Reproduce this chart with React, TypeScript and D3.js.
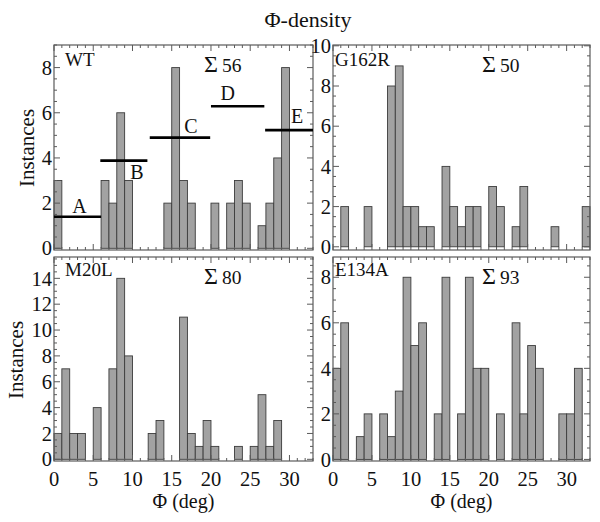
import React from "react";
import * as d3 from "d3";

// ---- data ----
const binStarts = d3.range(0, 33); // 1-degree bins, 0..32
const wtCounts = [3,0,0,0,0,0,3,2,6,3,0,0,0,0,2,8,3,2,0,0,2,0,2,3,2,0,1,2,4,8,0,0,0];
const g162rCounts = [0,2,0,0,2,0,0,8,9,2,2,1,1,0,4,2,1,2,2,0,3,2,0,1,3,0,0,0,1,0,0,0,2];
const m20lCounts = [2,7,2,2,0,4,0,7,14,8,0,0,2,3,0,0,11,2,1,3,1,0,0,1,0,1,5,1,3,0,0,0,0];
const e134aCounts = [4,6,0,1,2,0,2,1,3,8,5,6,0,2,8,0,2,8,4,4,0,2,0,6,2,5,4,0,0,2,2,4,0];

const panelNames = ["WT", "G162R", "M20L", "E134A"];
const panelTotals = [56, 50, 80, 93];
const yMax = [9, 10.04, 15.65, 8.89];
const yMin = [-0.075, -0.16, -0.13, -0.07];
const yTickValues = [
  [0, 2, 4, 6, 8],
  [0, 2, 4, 6, 8, 10],
  [0, 2, 4, 6, 8, 10, 12, 14],
  [0, 2, 4, 6, 8],
];
const xTickValues = [0, 5, 10, 15, 20, 25, 30];

// WT region segments
const segLabels = ["A", "B", "C", "D", "E"];
const segStart = [0, 5.9, 12.2, 20, 26.9];
const segEnd = [6, 11.9, 19.9, 26.8, 33.2];
const segLevel = [1.4, 3.88, 4.9, 6.29, 5.23];

const counts = [wtCounts, g162rCounts, m20lCounts, e134aCounts];

// ---- layout (styling) ----
const W = 600, H = 522;
const frames = [
  { x0: 54, x1: 313, y0: 45, y1: 250 },
  { x0: 333, x1: 590, y0: 45, y1: 250 },
  { x0: 54, x1: 313, y0: 257, y1: 461 },
  { x0: 333, x1: 590, y0: 257, y1: 461 },
];
const segLabelOffset = [[2, -4], [13, 18], [11, -5], [-10, -6], [8, -7]];
const FONT = "'Liberation Serif', 'Times New Roman', serif";
const BAR_FILL = "#a2a2a2";
const BAR_STROKE = "#3c3c3c";
const FRAME = "#5a5a5a";

function Panel({ i }: { i: number }) {
  const f = frames[i];
  const x = d3.scaleLinear().domain([0, 33]).range([f.x0, f.x1]);
  const y = d3.scaleLinear().domain([yMin[i], yMax[i]]).range([f.y1, f.y0]);
  const data = counts[i];
  const bottomRow = i >= 2;
  const xMinor = d3.range(0, 34, 1);
  const yMinor = d3.range(0, Math.floor(yMax[i] / 0.5) * 0.5 + 0.001, 0.5);
  const ticks: React.ReactNode[] = [];
  xMinor.forEach((v, k) => {
    const len = v % 5 === 0 ? 6 : 3;
    const px = x(v);
    if (px > f.x1 + 0.1) return;
    ticks.push(<line key={"xb" + k} x1={px} x2={px} y1={f.y1} y2={f.y1 - len} stroke={FRAME} strokeWidth={1} />);
    ticks.push(<line key={"xt" + k} x1={px} x2={px} y1={f.y0} y2={f.y0 + len} stroke={FRAME} strokeWidth={1} />);
  });
  yMinor.forEach((v, k) => {
    const len = Math.abs(v % 2) < 1e-6 ? 6 : 3;
    const py = y(v);
    if (py < f.y0 - 0.1) return;
    ticks.push(<line key={"yl" + k} x1={f.x0} x2={f.x0 + len} y1={py} y2={py} stroke={FRAME} strokeWidth={1} />);
    ticks.push(<line key={"yr" + k} x1={f.x1} x2={f.x1 - len} y1={py} y2={py} stroke={FRAME} strokeWidth={1} />);
  });
  return (
    <g>
      {binStarts.map((b, k) =>
        data[k] > 0 ? (
          <rect
            key={k}
            x={x(b)}
            y={y(data[k])}
            width={Math.min(x(b + 1), f.x1) - x(b)}
            height={y(0) - y(data[k])}
            fill={BAR_FILL}
            stroke={BAR_STROKE}
            strokeWidth={0.9}
          />
        ) : null
      )}
      {ticks}
      <rect x={f.x0} y={f.y0} width={f.x1 - f.x0} height={f.y1 - f.y0} fill="none" stroke={FRAME} strokeWidth={1.2} />
      {yTickValues[i].map((v) => (
        <text key={"yl" + v} x={f.x0 - 2} y={y(v)} dy="0.35em" textAnchor="end" fontFamily={FONT} fontSize={20.5} fill="#111">
          {v}
        </text>
      ))}
      {bottomRow &&
        xTickValues.map((v) => (
          <text key={"xl" + v} x={x(v)} y={486} textAnchor="middle" fontFamily={FONT} fontSize={20.5} fill="#111">
            {v}
          </text>
        ))}
      {bottomRow && (
        <text x={(f.x0 + f.x1) / 2} y={508} textAnchor="middle" fontFamily={FONT} fontSize={20} fill="#111">
          Φ (deg)
        </text>
      )}
      <text x={f.x0 + (i % 2 === 0 ? 11 : 2)} y={f.y0 + (i < 2 ? 21 : 19)} fontFamily={FONT} fontSize={19} fill="#111">
        {panelNames[i]}
      </text>
      <text x={i % 2 === 0 ? f.x0 + 150 : f.x0 + 149} y={f.y0 + 27} fontFamily={FONT} fill="#111">
        <tspan fontSize={24}>Σ</tspan>
        <tspan fontSize={19.5} dx={4}>{panelTotals[i]}</tspan>
      </text>
    </g>
  );
}

export default function App() {
  const f0 = frames[0];
  const xw = d3.scaleLinear().domain([0, 33]).range([f0.x0, f0.x1]);
  const yw = d3.scaleLinear().domain([yMin[0], yMax[0]]).range([f0.y1, f0.y0]);
  return (
    <svg width={W} height={H} style={{ position: "absolute", left: 0, top: 0, background: "#fff" }}>
      <rect width={W} height={H} fill="#fff" />
      <text x={308} y={27} textAnchor="middle" fontFamily={FONT} fontSize={22} fill="#111">
        Φ-density
      </text>
      {[0, 1, 2, 3].map((i) => (
        <Panel key={i} i={i} />
      ))}
      {segLabels.map((lab, k) => {
        const x0 = xw(segStart[k]);
        const x1 = Math.min(xw(segEnd[k]), f0.x1);
        const yy = yw(segLevel[k]);
        return (
          <g key={lab}>
            <line x1={x0} x2={x1} y1={yy} y2={yy} stroke="#000" strokeWidth={2.6} />
            <text
              x={(x0 + x1) / 2 + segLabelOffset[k][0]}
              y={yy + segLabelOffset[k][1]}
              textAnchor="middle"
              fontFamily={FONT}
              fontSize={20}
              fill="#111"
            >
              {lab}
            </text>
          </g>
        );
      })}
      <text transform="translate(34,148) rotate(-90)" textAnchor="middle" fontFamily={FONT} fontSize={21} fill="#111">
        Instances
      </text>
      <text transform="translate(23,360) rotate(-90)" textAnchor="middle" fontFamily={FONT} fontSize={21} fill="#111">
        Instances
      </text>
    </svg>
  );
}
